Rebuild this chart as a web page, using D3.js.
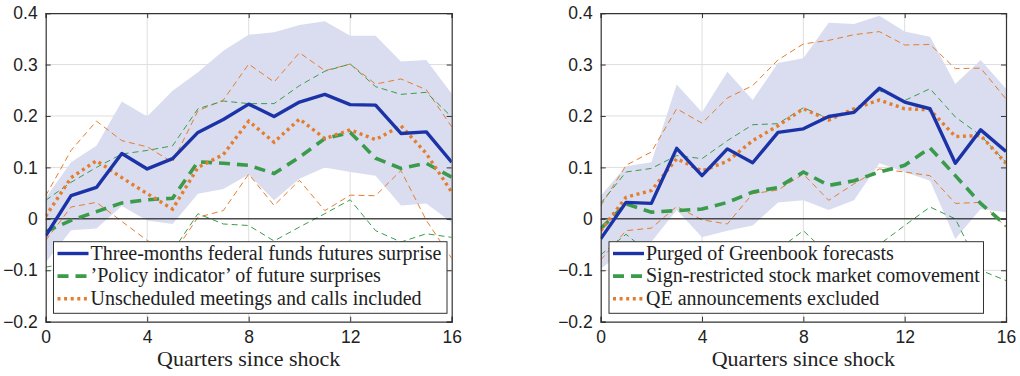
<!DOCTYPE html>
<html>
<head>
<meta charset="utf-8">
<script src="https://cdn.jsdelivr.net/npm/d3@7"></script>
<style>
  html, body { margin: 0; padding: 0; background: #fff; }
  svg { display: block; }
</style>
</head>
<body>
<script>
// Impulse responses over 16 quarters, two panels of robustness checks.
const quarters = d3.range(0, 17);
const xTicks = [0, 4, 8, 12, 16];
const yTicks = [-0.2, -0.1, 0, 0.1, 0.2, 0.3, 0.4];
const xTitle = "Quarters since shock";

// Left panel
const baseline3mUpper = [0.041, 0.110, 0.142, 0.228, 0.199, 0.249, 0.285, 0.327, 0.358, 0.363, 0.377, 0.384, 0.356, 0.356, 0.306, 0.309, 0.243];
const baseline3mLower = [-0.085, -0.022, -0.019, 0.025, -0.003, -0.010, 0.049, 0.058, 0.086, 0.036, 0.078, 0.100, 0.091, 0.084, 0.026, 0.030, -0.007];
const ffFuturesSurprise = [-0.033, 0.045, 0.061, 0.127, 0.097, 0.117, 0.168, 0.193, 0.223, 0.199, 0.227, 0.242, 0.222, 0.221, 0.166, 0.169, 0.110];
const policyIndicator = [-0.025, -0.003, 0.014, 0.031, 0.037, 0.040, 0.111, 0.108, 0.104, 0.088, 0.120, 0.156, 0.168, 0.118, 0.098, 0.108, 0.081];
const policyIndicatorUpper = [0.036, 0.071, 0.100, 0.126, 0.133, 0.142, 0.214, 0.229, 0.224, 0.224, 0.259, 0.287, 0.301, 0.257, 0.242, 0.246, 0.198];
const policyIndicatorLower = [-0.094, -0.085, -0.080, -0.078, -0.080, -0.063, 0.010, -0.010, -0.013, -0.043, -0.016, 0.010, 0.037, -0.023, -0.045, -0.029, -0.036];
const unscheduledIncluded = [0.005, 0.080, 0.113, 0.080, 0.049, 0.019, 0.100, 0.125, 0.190, 0.149, 0.194, 0.156, 0.173, 0.154, 0.181, 0.127, 0.052];
const unscheduledUpper = [0.045, 0.133, 0.190, 0.152, 0.140, 0.110, 0.210, 0.231, 0.301, 0.266, 0.323, 0.288, 0.301, 0.262, 0.272, 0.251, 0.179];
const unscheduledLower = [-0.042, 0.023, 0.032, -0.005, -0.042, -0.070, 0.003, 0.016, 0.087, 0.026, 0.075, 0.016, 0.046, 0.045, 0.094, -0.003, -0.077];

// Right panel
const greenbookBandUpper = [0.045, 0.102, 0.110, 0.261, 0.207, 0.286, 0.231, 0.303, 0.312, 0.381, 0.379, 0.395, 0.364, 0.354, 0.262, 0.309, 0.253];
const greenbookBandLower = [-0.097, -0.060, -0.045, 0.017, -0.036, -0.023, -0.013, 0.032, 0.036, 0.017, 0.036, 0.108, 0.091, 0.074, -0.039, 0.019, 0.013];
const purgedGreenbook = [-0.039, 0.032, 0.030, 0.137, 0.084, 0.136, 0.109, 0.168, 0.175, 0.199, 0.207, 0.254, 0.227, 0.214, 0.108, 0.173, 0.131];
const signRestricted = [-0.019, 0.029, 0.013, 0.016, 0.019, 0.032, 0.052, 0.061, 0.091, 0.065, 0.074, 0.091, 0.104, 0.138, 0.084, 0.030, -0.013];
const signRestrictedUpper = [0.030, 0.091, 0.098, 0.123, 0.117, 0.152, 0.183, 0.185, 0.216, 0.195, 0.211, 0.249, 0.230, 0.253, 0.198, 0.162, 0.110];
const signRestrictedLower = [-0.070, -0.030, -0.070, -0.060, -0.080, -0.070, -0.080, -0.060, -0.023, -0.070, -0.060, -0.050, -0.013, 0.023, 0.000, -0.100, -0.120];
const qeExcluded = [-0.023, 0.042, 0.055, 0.117, 0.093, 0.112, 0.152, 0.181, 0.214, 0.192, 0.214, 0.231, 0.214, 0.212, 0.160, 0.162, 0.108];
const qeExcludedUpper = [0.025, 0.104, 0.130, 0.214, 0.186, 0.235, 0.259, 0.309, 0.340, 0.347, 0.358, 0.364, 0.338, 0.339, 0.292, 0.293, 0.233];
const qeExcludedLower = [-0.080, -0.023, -0.018, 0.024, -0.002, -0.010, 0.049, 0.056, 0.087, 0.036, 0.068, 0.097, 0.091, 0.084, 0.030, 0.032, -0.016];

const leftLabels = ["Three-months federal funds futures surprise", "’Policy indicator’ of future surprises", "Unscheduled meetings and calls included"];
const rightLabels = ["Purged of Greenbook forecasts", "Sign-restricted stock market comovement", "QE announcements excluded"];

const BLUE = "#1b33a6", GREEN = "#3a9b4b", ORANGE = "#e47d2e", BAND = "#d9ddef";

const svg = d3.select("body").append("svg").attr("width", 1020).attr("height", 376);

function drawPanel(cfg) {
  const x = d3.scaleLinear().domain([0, 16]).range([cfg.left, cfg.right]);
  const y = d3.scaleLinear().domain([-0.2, 0.4]).range([321.7, 13.1]);
  const g = svg.append("g");
  const [x0, x1] = x.range(), [y0, y1] = y.range();

  // grid
  g.append("g").selectAll("line").data(xTicks.slice(1, -1)).join("line")
    .attr("x1", d => x(d)).attr("x2", d => x(d)).attr("y1", y1).attr("y2", y0)
    .attr("stroke", "#dedede").attr("stroke-width", 1);
  g.append("g").selectAll("line").data(yTicks.slice(1, -1)).join("line")
    .attr("x1", x0).attr("x2", x1).attr("y1", d => y(d)).attr("y2", d => y(d))
    .attr("stroke", "#dedede").attr("stroke-width", 1);

  const clipId = "clip" + Math.round(cfg.left);
  svg.append("clipPath").attr("id", clipId).append("rect")
    .attr("x", x0).attr("y", y1).attr("width", x1 - x0).attr("height", y0 - y1);
  const plot = g.append("g").attr("clip-path", `url(#${clipId})`);

  // confidence band
  const area = d3.area().x((d, i) => x(quarters[i])).y0(d => y(d[1])).y1(d => y(d[0]));
  plot.append("path").datum(cfg.bandUpper.map((u, i) => [u, cfg.bandLower[i]]))
    .attr("d", area).attr("fill", BAND);

  const line = d3.line().x((d, i) => x(quarters[i])).y(d => y(d));
  const thin = [[cfg.s3Upper, ORANGE], [cfg.s3Lower, ORANGE], [cfg.s2Upper, GREEN], [cfg.s2Lower, GREEN]];
  thin.forEach(([vals, col]) => plot.append("path").datum(vals).attr("d", line)
    .attr("fill", "none").attr("stroke", col).attr("stroke-width", 1).attr("stroke-dasharray", "6,4"));

  // zero line
  plot.append("line").attr("x1", x0).attr("x2", x1).attr("y1", y(0)).attr("y2", y(0))
    .attr("stroke", "#000").attr("stroke-width", 1);

  const styles = [
    { col: BLUE, w: 3.4, dash: null },
    { col: GREEN, w: 3.6, dash: "11,7" },
    { col: ORANGE, w: 3.4, dash: "3,3.6" }
  ];
  plot.append("path").datum(cfg.s2).attr("d", line).attr("fill", "none")
    .attr("stroke", styles[1].col).attr("stroke-width", styles[1].w).attr("stroke-dasharray", styles[1].dash);
  plot.append("path").datum(cfg.s3).attr("d", line).attr("fill", "none")
    .attr("stroke", styles[2].col).attr("stroke-width", styles[2].w).attr("stroke-dasharray", styles[2].dash);
  plot.append("path").datum(cfg.s1).attr("d", line).attr("fill", "none")
    .attr("stroke", styles[0].col).attr("stroke-width", styles[0].w).attr("stroke-linejoin", "round");

  // axes box with inward ticks on all sides
  const axisCol = "#333";
  const axB = d3.axisBottom(x).tickValues(xTicks).tickSize(-5).tickPadding(9).tickFormat(d3.format("d"));
  const axT = d3.axisTop(x).tickValues(xTicks).tickSize(-5).tickFormat("");
  const axL = d3.axisLeft(y).tickValues(yTicks).tickSize(-5).tickPadding(8).tickFormat(d => d === 0 ? "0" : d3.format(".1f")(d));
  const axR = d3.axisRight(y).tickValues(yTicks).tickSize(-5).tickFormat("");
  const style = sel => {
    sel.selectAll(".domain").attr("stroke", axisCol).attr("stroke-width", 1.2);
    sel.selectAll(".tick line").attr("stroke", axisCol);
    sel.selectAll("text").attr("fill", "#222").style("font-family", "'Liberation Sans', Arial, sans-serif").style("font-size", "17.5px");
  };
  g.append("g").attr("transform", `translate(0,${y0})`).call(axB).call(style);
  g.append("g").attr("transform", `translate(0,${y1})`).call(axT).call(style);
  g.append("g").attr("transform", `translate(${x0},0)`).call(axL).call(style);
  g.append("g").attr("transform", `translate(${x1},0)`).call(axR).call(style);

  g.append("text").attr("x", (x0 + x1) / 2).attr("y", 366).attr("text-anchor", "middle")
    .style("font-family", "'Liberation Serif', 'Times New Roman', serif").style("font-size", "22px")
    .attr("fill", "#222").text(xTitle);

  // legend
  const lg = g.append("g");
  lg.append("rect").attr("x", cfg.legX).attr("y", 241.7).attr("width", cfg.legW).attr("height", 71.6)
    .attr("fill", "#fff").attr("stroke", "#333").attr("stroke-width", 1);
  cfg.labels.forEach((lab, i) => {
    const yy = 253.5 + i * 22.6;
    const s = styles[i];
    lg.append("line").attr("x1", cfg.legX + 4).attr("x2", cfg.legX + 35).attr("y1", yy).attr("y2", yy)
      .attr("stroke", s.col).attr("stroke-width", s.w).attr("stroke-dasharray", s.dash);
    lg.append("text").attr("x", cfg.legX + 37).attr("y", yy + 6.3).attr("fill", "#222")
      .style("font-family", "'Liberation Serif', 'Times New Roman', serif").style("font-size", "20px")
      .text(lab);
  });
}

drawPanel({
  left: 45.7, right: 451.7, legX: 53.5, legW: 393.5,
  bandUpper: baseline3mUpper, bandLower: baseline3mLower,
  s1: ffFuturesSurprise, s2: policyIndicator, s3: unscheduledIncluded,
  s2Upper: policyIndicatorUpper, s2Lower: policyIndicatorLower,
  s3Upper: unscheduledUpper, s3Lower: unscheduledLower,
  labels: leftLabels
});
drawPanel({
  left: 600.7, right: 1006, legX: 609, legW: 374.5,
  bandUpper: greenbookBandUpper, bandLower: greenbookBandLower,
  s1: purgedGreenbook, s2: signRestricted, s3: qeExcluded,
  s2Upper: signRestrictedUpper, s2Lower: signRestrictedLower,
  s3Upper: qeExcludedUpper, s3Lower: qeExcludedLower,
  labels: rightLabels
});
</script>
</body>
</html>
